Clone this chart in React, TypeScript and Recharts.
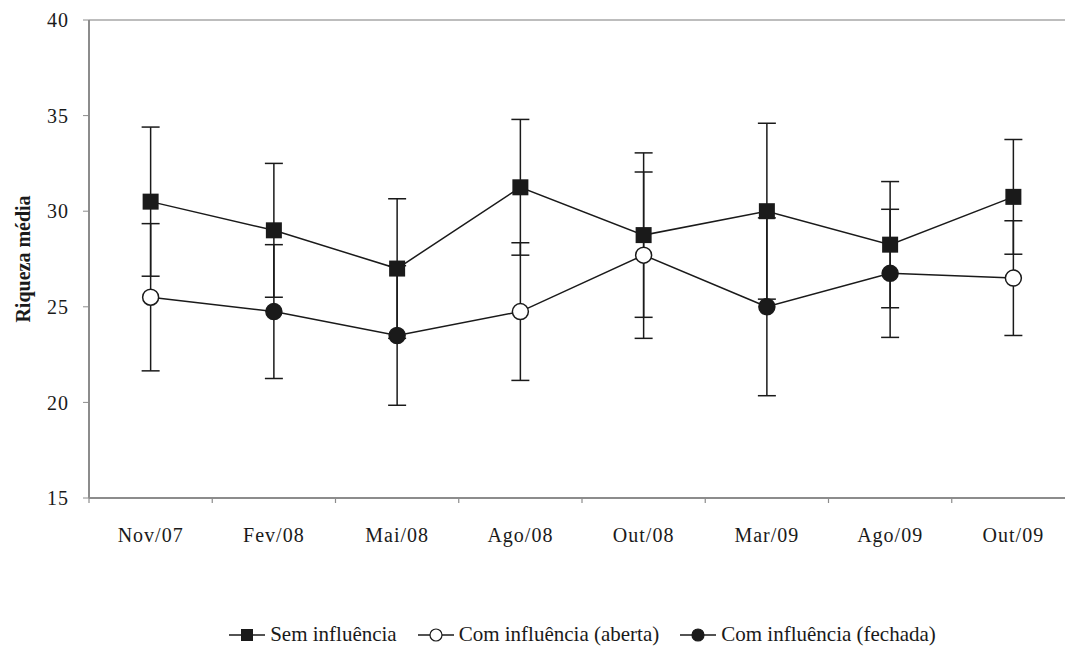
import React from 'react'
import {
  LineChart,
  Line,
  XAxis,
  YAxis,
  ErrorBar,
  ReferenceLine,
} from 'recharts'

// Sampling campaigns
const MONTHS = ['Nov/07', 'Fev/08', 'Mai/08', 'Ago/08', 'Out/08', 'Mar/09', 'Ago/09', 'Out/09']

// Mean richness and standard deviation, sites without influence
const SEM_MEAN = [30.5, 29.0, 27.0, 31.25, 28.75, 30.0, 28.25, 30.75]
const SEM_SD = [3.9, 3.5, 3.65, 3.55, 4.3, 4.6, 3.3, 3.0]

// Mean richness and standard deviation, sites with influence
const COM_MEAN = [25.5, 24.75, 23.5, 24.75, 27.7, 25.0, 26.75, 26.5]
const COM_SD = [3.85, 3.5, 3.65, 3.6, 4.35, 4.65, 3.35, 3.0]
// river mouth state per campaign
const COM_STATE = ['aberta', 'fechada', 'fechada', 'aberta', 'aberta', 'fechada', 'fechada', 'aberta']

const Y_TICKS = [15, 20, 25, 30, 35, 40]
// tick marks sit between campaigns, labels sit on them
const BOUNDARY_TICKS = MONTHS.map((_, i) => i).concat(MONTHS.length)
const CENTER_TICKS = MONTHS.map((_, i) => i + 0.5)

const FONT = '"Liberation Serif", "Times New Roman", serif'
const INK = '#1a1a1a'
const AXIS = '#8c8c8c'

const data = MONTHS.map((month, i) => ({
  month,
  x: i + 0.5,
  sem: SEM_MEAN[i],
  semSd: SEM_SD[i],
  com: COM_MEAN[i],
  comSd: COM_SD[i],
  state: COM_STATE[i],
}))

const SquareDot = (props: any) => {
  const { cx, cy, index } = props
  if (cx == null || cy == null) return <g key={`sq-${index}`} />
  return <rect key={`sq-${index}`} x={cx - 8} y={cy - 8} width={16} height={16} fill={INK} />
}

const StateDot = (props: any) => {
  const { cx, cy, index, payload } = props
  if (cx == null || cy == null) return <g key={`c-${index}`} />
  const open = payload.state === 'aberta'
  return (
    <circle
      key={`c-${index}`}
      cx={cx}
      cy={cy}
      r={8}
      fill={open ? '#fff' : INK}
      stroke={INK}
      strokeWidth={1.5}
    />
  )
}

const YLabel = (props: any) => {
  const { viewBox } = props
  const x = viewBox.x + 25
  const y = viewBox.y + viewBox.height / 2
  return (
    <text
      x={x}
      y={y}
      transform={`rotate(-90, ${x}, ${y})`}
      textAnchor="middle"
      dominantBaseline="middle"
      fontFamily={FONT}
      fontWeight="bold"
      fontSize={20}
      fill={INK}
    >
      Riqueza média
    </text>
  )
}

const LegendItem = ({ kind, label }: { kind: 'square' | 'open' | 'filled'; label: string }) => (
  <div style={{ display: 'flex', alignItems: 'center', margin: '0 10px' }}>
    <svg width={38} height={20}>
      <line x1={1} y1={10} x2={37} y2={10} stroke={INK} strokeWidth={1.5} />
      {kind === 'square' ? (
        <rect x={13} y={4} width={12} height={12} fill={INK} />
      ) : (
        <circle cx={19} cy={10} r={6} fill={kind === 'open' ? '#fff' : INK} stroke={INK} strokeWidth={1.2} />
      )}
    </svg>
    <span style={{ marginLeft: 4 }}>{label}</span>
  </div>
)

export default function App() {
  return (
    <div
      style={{
        position: 'fixed',
        left: 0,
        top: 0,
        width: 1065,
        height: 653,
        overflow: 'hidden',
        background: '#fff',
        fontFamily: FONT,
      }}
    >
      <LineChart
        width={1090}
        height={653}
        data={data}
        margin={{ top: 20, right: 15, left: 0, bottom: 105 }}
      >
        <XAxis
          xAxisId="axis1"
          dataKey="x"
          type="number"
          domain={[0, MONTHS.length]}
          ticks={BOUNDARY_TICKS}
          tickFormatter={() => ''}
          interval={0}
          tickSize={5}
          height={10}
          axisLine={{ stroke: AXIS, strokeWidth: 2 }}
          tickLine={{ stroke: AXIS, strokeWidth: 1.2 }}
        />
        <XAxis
          xAxisId="axis2"
          dataKey="x"
          type="number"
          domain={[0, MONTHS.length]}
          ticks={CENTER_TICKS}
          tickFormatter={(v: number) => MONTHS[Math.floor(v)]}
          axisLine={false}
          tickLine={false}
          height={40}
          tickMargin={14}
          interval={0}
          tick={{ fill: INK, fontSize: 20, fontFamily: FONT, letterSpacing: 1 }}
        />
        <YAxis
          type="number"
          domain={[15, 40]}
          ticks={Y_TICKS}
          width={89}
          tickSize={6}
          tickMargin={14}
          axisLine={{ stroke: AXIS, strokeWidth: 2 }}
          tickLine={{ stroke: AXIS, strokeWidth: 1 }}
          tick={{ fill: INK, fontSize: 20, fontFamily: FONT, letterSpacing: 1 }}
          label={{ content: <YLabel /> }}
        />
        <ReferenceLine xAxisId="axis1" y={40} stroke="#bdbdbd" strokeWidth={2} />
        <Line
          xAxisId="axis1"
          dataKey="com"
          stroke={INK}
          strokeWidth={1.5}
          dot={StateDot}
          isAnimationActive={false}
        >
          <ErrorBar dataKey="comSd" direction="y" width={9} stroke={INK} strokeWidth={1.5} />
        </Line>
        <Line
          xAxisId="axis1"
          dataKey="sem"
          stroke={INK}
          strokeWidth={1.5}
          dot={SquareDot}
          isAnimationActive={false}
        >
          <ErrorBar dataKey="semSd" direction="y" width={9} stroke={INK} strokeWidth={1.5} />
        </Line>
      </LineChart>
      <div
        style={{
          position: 'absolute',
          left: 89,
          width: 986,
          top: 622,
          display: 'flex',
          justifyContent: 'center',
          fontSize: 21,
          color: INK,
        }}
      >
        <LegendItem kind="square" label="Sem influência" />
        <LegendItem kind="open" label="Com influência (aberta)" />
        <LegendItem kind="filled" label="Com influência (fechada)" />
      </div>
    </div>
  )
}
